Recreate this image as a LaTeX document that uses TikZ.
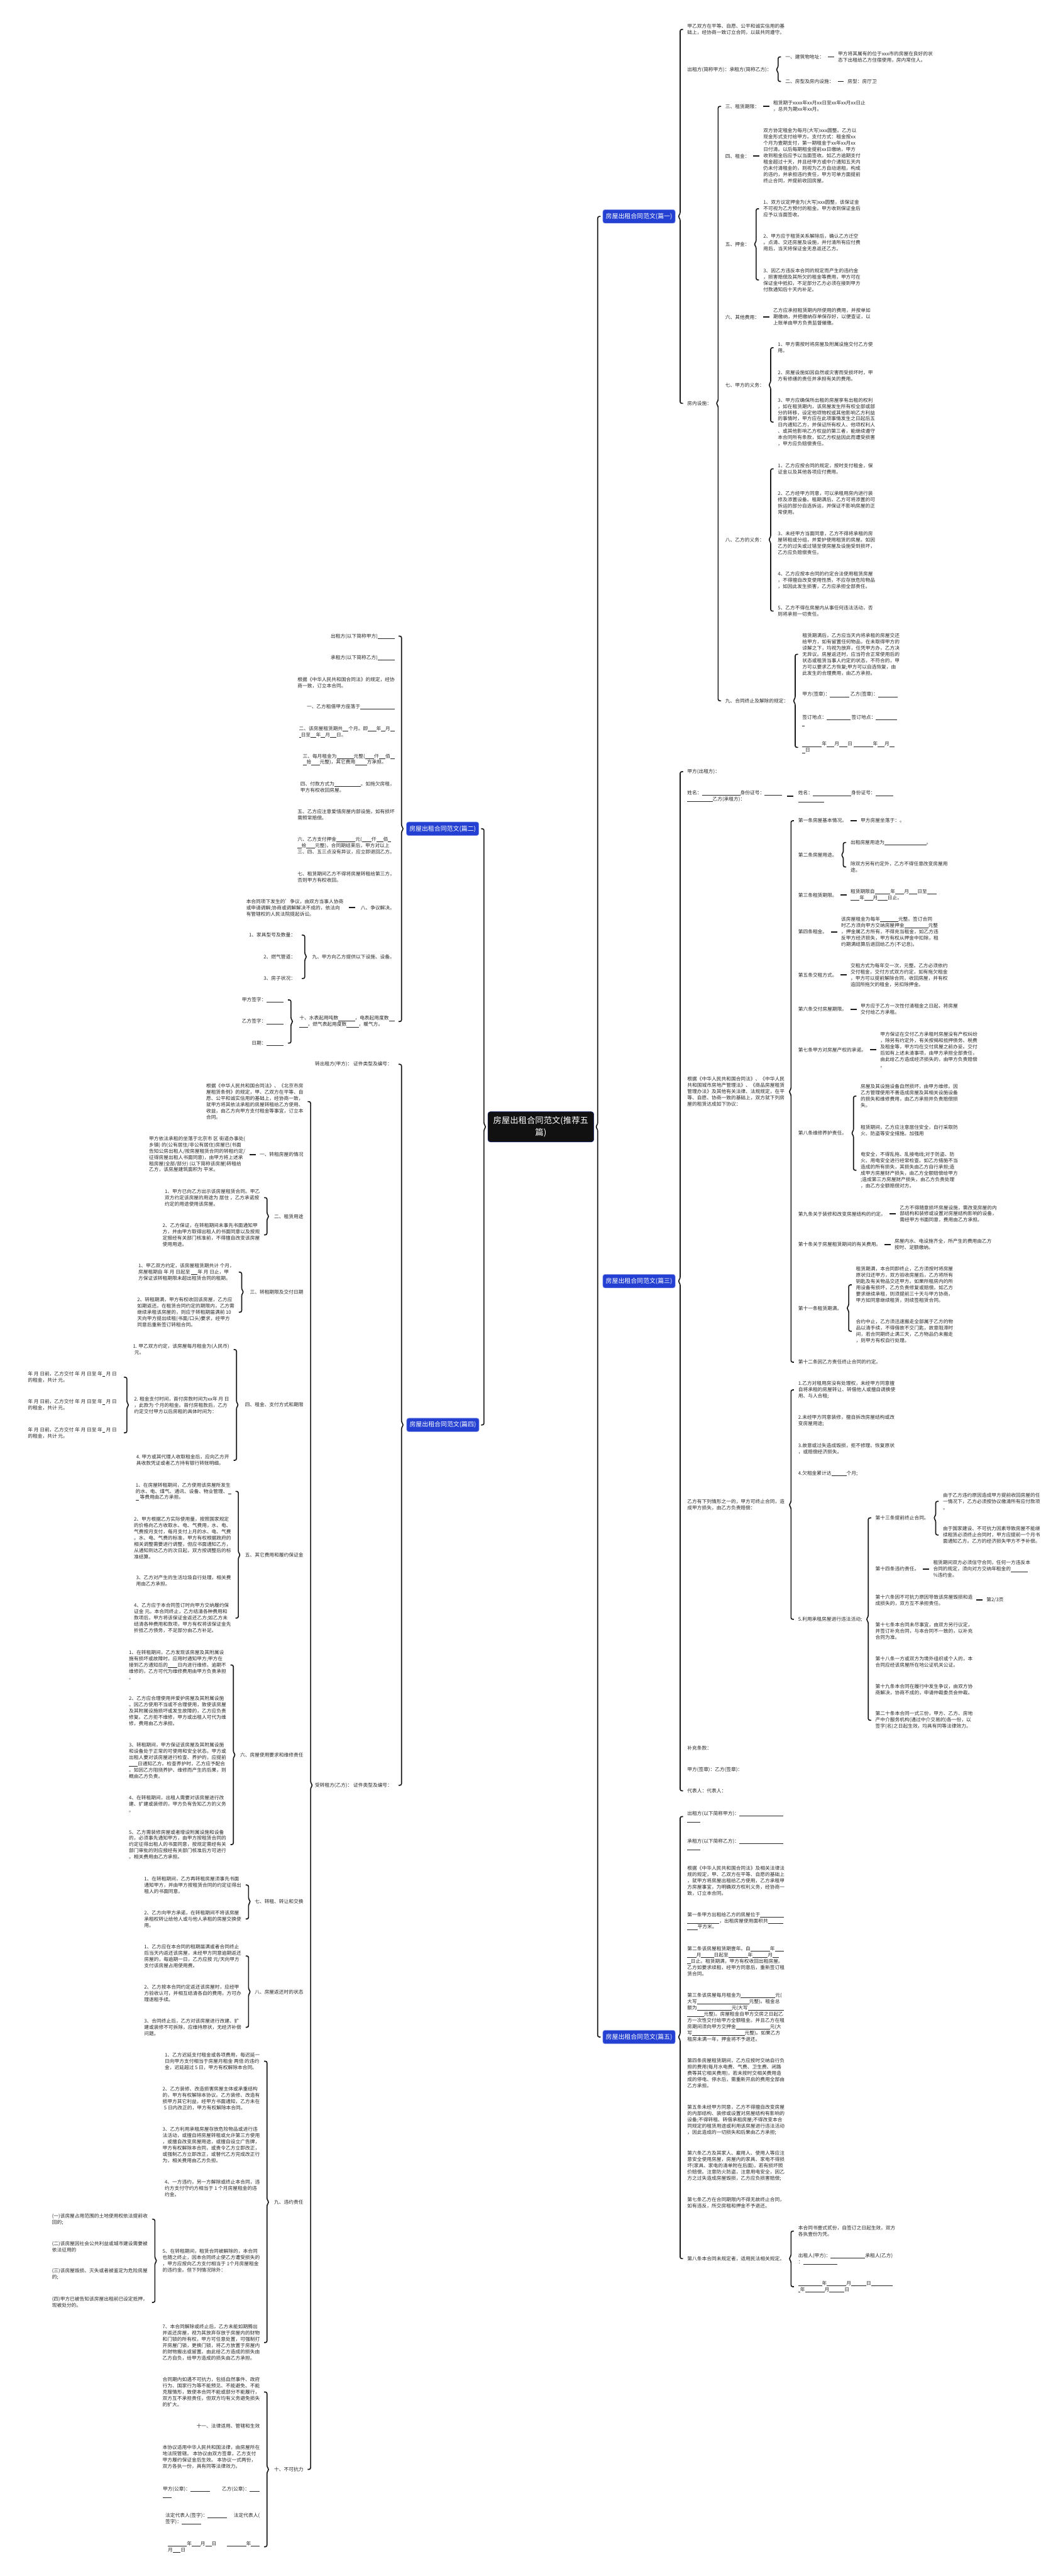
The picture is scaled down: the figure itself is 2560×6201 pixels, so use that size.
\documentclass[tikz,border=0pt]{standalone}
\usepackage{fontspec}
\setmainfont{Noto Sans CJK SC}
\usetikzlibrary{calc}

\definecolor{rootblack}{RGB}{17,17,17}
\definecolor{branchblue}{RGB}{36,64,210}
\definecolor{inkgray}{RGB}{38,38,38}

\newcommand{\mmfont}{\fontsize{5.85pt}{7.55pt}\selectfont}
\newcommand{\fillin}[1]{\rule[-0.16em]{#1em}{0.07em}}

% 大括号：子节点在右侧
\newcommand{\bracer}[4][7.5pt]{%
  \draw[mmbrace] let \p1=(#2.center), \p2=(#3.west), \p3=(#4.west) in
    (\x2-#1+3.5pt,\y2) -- (\x2-#1,\y2) -- (\x2-#1,\y1+3pt) -- (\x2-#1-2.5pt,\y1)
    -- (\x2-#1,\y1-3pt) -- (\x2-#1,\y3) -- (\x2-#1+3.5pt,\y3);}
% 大括号：子节点在左侧
\newcommand{\bracel}[4][7.5pt]{%
  \draw[mmbrace] let \p1=(#2.center), \p2=(#3.east), \p3=(#4.east) in
    (\x2+#1-3.5pt,\y2) -- (\x2+#1,\y2) -- (\x2+#1,\y1+3pt) -- (\x2+#1+2.5pt,\y1)
    -- (\x2+#1,\y1-3pt) -- (\x2+#1,\y3) -- (\x2+#1-3.5pt,\y3);}
% 短横线（单个子节点）
\newcommand{\linkr}[2]{\draw[mmlink] let \p1=(#1.east), \p2=(#2.west) in
  ({(\x1+\x2)/2-3.75pt},\y1) -- ({(\x1+\x2)/2+3.75pt},\y1);}
\newcommand{\linkl}[2]{\draw[mmlink] let \p1=(#1.west), \p2=(#2.east) in
  ({(\x1+\x2)/2-3.75pt},\y1) -- ({(\x1+\x2)/2+3.75pt},\y1);}

\begin{document}
\begin{tikzpicture}[x=0.5pt, y=-0.5pt,
  txt/.style={font=\mmfont, text=inkgray, align=left, inner sep=1pt},
  txtr/.style={txt, anchor=west},
  txtl/.style={txt, anchor=east},
  root/.style={fill=rootblack, draw=branchblue!55!black, line width=0.5pt, rounded corners=3pt,
    text=white, font=\fontsize{10.1pt}{13.85pt}\selectfont, align=center, inner xsep=6.5pt, inner ysep=6pt},
  branch/.style={fill=branchblue, draw=branchblue!60!white, line width=0.5pt, rounded corners=2.5pt,
    text=white, font=\fontsize{7.5pt}{9pt}\selectfont, inner xsep=3.5pt, inner ysep=4.2pt},
  mmbrace/.style={line width=1.25pt, draw=black!90, rounded corners=2pt},
  mmlink/.style={line width=1.25pt, draw=black!90}]

  \fill[white] (0,0) rectangle (2560,6201);
  \useasboundingbox (0,0) rectangle (2560,6201);

  % ==========================================
  % 中心主题与五个分支
  % ==========================================
  \node[root] (root) at (1302.5,2712.5) {房屋出租合同范文(推荐五\\篇)};
  \node[branch] (A) at (1539,521) {房屋出租合同范文(篇一)};
  \node[branch] (B) at (1066,1995) {房屋出租合同范文(篇二)};
  \node[branch] (C) at (1539,3084) {房屋出租合同范文(篇三)};
  \node[branch] (D) at (1066.5,3430) {房屋出租合同范文(篇四)};
  \node[branch] (E) at (1539,4903.5) {房屋出租合同范文(篇五)};
  \bracer[6pt]{root}{A}{E}
  \bracel[6pt]{root}{B}{D}

  % ==========================================
  % 篇一（右上）
  % ==========================================
  \begin{scope}
    \node[txtr] (A1) at (1653,70.8) {甲乙双方在平等、自愿、公平和诚实信用的基\\础上，经协商一致订立合同，以兹共同遵守。};
    \node[txtr] (A2) at (1653,167.7) {出租方(简称甲方)：承租方(简称乙方)：};
    \node[txtr] (A3) at (1653,971) {房内设施：};
    \bracer{A}{A1}{A3}

    % 出租方 / 承租方
    \node[txtr] (A21) at (1889,137) {一、建筑物地址：};
    \node[txtr] (A21t) at (2016,137) {甲方将其属有的位于xxx市的房屋在良好的状\\态下出租给乙方住宿使用，房内常住人。};
    \node[txtr] (A22) at (1889,196) {二、房型及房内设施：};
    \node[txtr] (A22t) at (2039,196) {房型：房厅卫};
    \bracer{A2}{A21}{A22}
    \linkr{A21}{A21t}
    \linkr{A22}{A22t}

    % 房内设施
    \node[txtr] (A31) at (1744.5,256) {三、租赁期限：};
    \node[txtr] (A31t) at (1860,256) {租赁期于xxxx年xx月xx日至xx年xx月xx日止\\，总共为期xx年xx月。};
    \node[txtr] (A32) at (1744.5,375.6) {四、租金：};
    \node[txtr] (A32t) at (1836,375) {双方协定租金为每月(大写)xxx圆整。乙方以\\现金形式支付给甲方。支付方式：租金按xx\\个月为壹期支付，第一期租金于xx年xx月xx\\日付清。以后每期租金提前xx日缴纳，甲方\\收到租金后应予以当面签收。如乙方逾期支付\\租金超过十天，并且经甲方或中介通知五天内\\仍未付清租金的，则视为乙方自动退租，构成\\的违约，并承担违约责任，甲方可单方面提前\\终止合同，并提前收回房屋。};
    \node[txtr] (A33) at (1744.5,588) {五、押金：};
    \node[txtr] (A331) at (1836,502.5) {1、双方议定押金为(大写)xxx圆整，该保证金\\不可视为乙方预付的租金。甲方收到保证金后\\应予以当面签收。};
    \node[txtr] (A332) at (1836,584) {2、甲方应于租赁关系解除后，确认乙方迁空\\。点清、交还房屋及设施，并付清所有应付费\\用后，当天将保证金无息返还乙方。};
    \node[txtr] (A333) at (1836,673.8) {3、因乙方违反本合同的规定而产生的违约金\\，损害赔偿及其所欠的租金等费用，甲方可在\\保证金中抵扣，不足部分乙方必须在接到甲方\\付款通知后十天内补足。};
    \node[txtr] (A34) at (1744.5,763.4) {六、其他费用：};
    \node[txtr] (A34t) at (1860,763) {乙方应承担租赁期内所使用的费用，并按单如\\期缴纳，并把缴纳存单保存好，以便查证，以\\上账单由甲方负责监督催缴。};
    \node[txtr] (A35) at (1744.5,926.7) {七、甲方的义务：};
    \node[txtr] (A351) at (1871,837) {1、甲方需按时将房屋及附属设施交付乙方使\\用。};
    \node[txtr] (A352) at (1871,904) {2、房屋设施如因自然或灾害而受损坏时，甲\\方有修缮的责任并承担有关的费用。};
    \node[txtr] (A353) at (1871,1016) {3、甲方应确保所出租的房屋享有出租的权利\\，如在租赁期内，该房屋发生所有权全部或部\\分的转移，设定他项物权或其他影响乙方利益\\的事情时，甲方应在此项事情发生之日起后五\\日内通知乙方，并保证所有权人、他项权利人\\、或其他影响乙方权益的第三者，能继续遵守\\本合同所有条款，如乙方权益因此而遭受损害\\，甲方应负赔偿责任。};
    \node[txtr] (A36) at (1744.5,1299) {八、乙方的义务：};
    \node[txtr] (A361) at (1871,1128.6) {1、乙方应按合同的规定，按时支付租金，保\\证金以及其他各项应付费用。};
    \node[txtr] (A362) at (1871,1210) {2、乙方经甲方同意，可以承租用房内进行装\\修及添置设备。租期满后，乙方可将添置的可\\拆运的部分自选拆运，并保证不影响房屋的正\\常使用。};
    \node[txtr] (A363) at (1871,1307) {3、未经甲方当面同意，乙方不得将承租的房\\屋转租或分组，并爱护使用租赁的房屋。如因\\乙方的过失或过错至使房屋及设施受到损坏，\\乙方应负赔偿责任。};
    \node[txtr] (A364) at (1871,1396.4) {4、乙方应按本合同的约定合法使用租赁房屋\\，不得擅自改变使用性质，不应存放危险物品\\，如因此发生损害，乙方应承担全部责任。};
    \node[txtr] (A365) at (1871,1471) {5、乙方不得在房屋内从事任何违法活动，否\\则将承担一切责任。};
    \node[txtr] (A37) at (1744.5,1687) {九、合同终止及解除的规定：};
    \node[txtr] (A371) at (1930,1575) {租赁期满后，乙方应当天内将承租的房屋交还\\给甲方，如有留置任何物品，在未取得甲方的\\谅解之下，均视为放弃，任凭甲方办，乙方决\\无异议。房屋返还时，应当符合正常使用后的\\状态或租赁当事人约定的状态，不符合的，甲\\方可以要求乙方恢复;甲方可以自选恢复，由\\此发生的合理费用，由乙方承担。};
    \node[txtr] (A372) at (1930,1672) {甲方(签章)：\fillin{4} 乙方(签章)：\fillin{4}};
    \node[txtr] (A373) at (1930,1734) {签订地点：\fillin{4.9} 签订地点：\fillin{4.4}\\\fillin{0.4}};
    \node[txtr] (A374) at (1930,1799) {\fillin{4}年\fillin{1.6}月\fillin{1.7}日 \fillin{4}年\fillin{1.4}月\fillin{1}\\\fillin{0.6}日};
    \bracer{A3}{A31}{A37}
    \linkr{A31}{A31t}
    \linkr{A32}{A32t}
    \bracer{A33}{A331}{A333}
    \linkr{A34}{A34t}
    \bracer{A35}{A351}{A353}
    \bracer{A36}{A361}{A365}
    \bracer{A37}{A371}{A374}
  \end{scope}

  % ==========================================
  % 篇二（左上）
  % ==========================================
  \begin{scope}
    \node[txtl] (B1) at (953,1531.3) {出租方(以下简称甲方)\fillin{3.5}};
    \node[txtl] (B2) at (953,1583.5) {承租方(以下简称乙方)\fillin{3.5}};
    \node[txtl] (B3) at (953,1643) {根据《中华人民共和国合同法》的规定，经协\\商一致，订立本合同。};
    \node[txtl] (B4) at (953,1701.7) {一、乙方租借甲方座落于\fillin{7.1}};
    \node[txtl] (B5) at (953,1761.3) {二、该房屋租赁期共\fillin{1.2}个月。即\fillin{1.7}年\fillin{0.9}月\fillin{0.9}\\\fillin{0.4}日至\fillin{1.1}年\fillin{0.9}月\fillin{1.3}日。};
    \node[txtl] (B6) at (953,1828) {三、每月租金为\fillin{3.5}元整(\fillin{1.9}仟\fillin{1.3}佰\fillin{0.9}\\\fillin{0.8}拾\fillin{1.7}元整)，其它费用\fillin{2.4}方承担。};
    \node[txtl] (B7) at (953,1894.7) {四、付款方式为\fillin{5.4}。如拖欠房租，\\甲方有权收回房屋。};
    \node[txtl] (B8) at (953,1961.7) {五、乙方应注意爱惜房屋内部设施，如有损坏\\需照常赔偿。};
    \node[txtl] (B9) at (953,2036) {六、乙方支付押金\fillin{3.9}元(\fillin{2}仟\fillin{1.4}佰\fillin{0.65}\\\fillin{0.8}拾\fillin{1.8}元整)，合同期结束后，甲方对以上\\三、四、五三点没有异议，应立即退回乙方。};
    \node[txtl] (B10) at (953,2110.7) {七、租赁期间乙方不得将房屋转租给第三方，\\否则甲方有权收回。};
    \node[txtl] (B11) at (953,2185) {八、争议解决。};
    \node[txtl] (B11t) at (829.5,2185) {本合同项下发生的'争议，由双方当事人协商\\或申请调解;协商或调解解决不成的，依法向\\有管辖权的人民法院提起诉讼。};
    \node[txtl] (B12) at (953,2303) {九、甲方向乙方提供以下设施、设备。};
    \node[txtl] (B121) at (714,2251) {1、家具型号及数量：};
    \node[txtl] (B122) at (714,2303) {2、燃气管道：};
    \node[txtl] (B123) at (714,2355.5) {3、房子状况：};
    \node[txtl] (B13) at (953,2459) {十、水表起用吨数\fillin{3.4}，电表起用度数\fillin{1.2}\\\fillin{1.7}，燃气表起用度数\fillin{2.5}，暖气方。};
    \node[txtl] (B131) at (685.7,2407) {甲方签字：\fillin{3.6}};
    \node[txtl] (B132) at (685.7,2459) {乙方签字：\fillin{3.6}};
    \node[txtl] (B133) at (685.7,2511) {日期：\fillin{3.6}};
    \bracel[7pt]{B}{B1}{B13}
    \linkl{B11}{B11t}
    \bracel[10pt]{B12}{B121}{B123}
    \bracel{B13}{B131}{B133}
  \end{scope}

  % ==========================================
  % 篇三（右中）
  % ==========================================
  \begin{scope}
    \node[txtr] (C1) at (1653,1857.6) {甲方(出租方)：};
    \node[txtr] (C2) at (1653,1917) {姓名：\fillin{7.9}身份证号：\fillin{3.6}\\\fillin{5.2}乙方(承租方)：};
    \node[txtr] (C2t) at (1920,1917) {姓名：\fillin{7.9}身份证号：\fillin{3.6}\\\fillin{5.3}};
    \node[txtr] (C3) at (1653,2628) {根据《中华人民共和国合同法》、《中华人民\\共和国城市房地产管理法》、《商品房屋租赁\\管理办法》及其他有关法律、法规规定，在平\\等、自愿、协商一致的基础上，双方就下列房\\屋的租赁达成如下协议：};
    \node[txtr] (C4) at (1653,3622.7) {乙方有下列情形之一的，甲方可终止合同，造\\成甲方损失，由乙方负责赔偿：};
    \node[txtr] (C5) at (1653,4208) {补充条款：};
    \node[txtr] (C6) at (1653,4259.6) {甲方(签章)：乙方(签章)：};
    \node[txtr] (C7) at (1653,4310.8) {代表人：代表人：};
    \bracer{C}{C1}{C7}
    \linkr{C2}{C2t}

    % 协议条款
    \node[txtr] (C31) at (1920,1975.7) {第一条房屋基本情况。};
    \node[txtr] (C31t) at (2070.5,1975.7) {甲方房屋坐落于：。};
    \node[txtr] (C32) at (1920,2058) {第二条房屋用途。};
    \node[txtr] (C321) at (2046,2028) {出租房屋用途为\fillin{8.6}。};
    \node[txtr] (C322) at (2046,2087) {除双方另有约定外，乙方不得任意改变房屋用\\途。};
    \node[txtr] (C33) at (1920,2154.5) {第三条租赁期限。};
    \node[txtr] (C33t) at (2046,2154) {租赁期限自\fillin{3.2}年\fillin{1.85}月\fillin{1.7}日至\fillin{2}\\\fillin{1.85}年\fillin{1.75}月\fillin{2}日止。};
    \node[txtr] (C34) at (1920,2243.5) {第四条租金。};
    \node[txtr] (C34t) at (2023.5,2243) {该房屋租金为每年\fillin{3.75}元整。签订合同\\时乙方须向甲方交纳房屋押金\fillin{4.9}元整\\，押金属乙方所有，不得充当租金，如乙方违\\反甲方经济损失，甲方有权从押金中扣除，租\\约期满结算后退回给乙方(不记息)。};
    \node[txtr] (C35) at (1920,2347) {第五条交租方式。};
    \node[txtr] (C35t) at (2046,2347) {交租方式为每年交一次，元整。乙方必须依约\\交付租金，交付方式双方约定，如有拖欠租金\\，甲方可以提前解除合同，收回房屋，并有权\\追回所拖欠的租金，另扣除押金。};
    \node[txtr] (C36) at (1920,2429.7) {第六条交付房屋期限。};
    \node[txtr] (C36t) at (2070.5,2429.7) {甲方应于乙方一次性付清租金之日起，将房屋\\交付给乙方承租。};
    \node[txtr] (C37) at (1920,2527) {第七条甲方对房屋产权的承诺。};
    \node[txtr] (C37t) at (2117.5,2528) {甲方保证在交付乙方承租时房屋没有产权纠纷\\，除另有约定外，有关按揭和抵押债务、税费\\及租金等，甲方均在交付房屋之前办妥。交付\\后如有上述未清事项，由甲方承担全部责任，\\由此给乙方造成经济损失的，由甲方负责赔偿\\。};
    \node[txtr] (C38) at (1920,2727.7) {第八条维修养护责任。};
    \node[txtr] (C381) at (2070.5,2638.6) {房屋及其设施设备自然损坏，由甲方维修。因\\乙方管理使用不善造成房屋及其相关设施设备\\的损失和维修费用，由乙方承担并负责赔偿损\\失。};
    \node[txtr] (C382) at (2070.5,2720.6) {租赁期间，乙方应注意居住安全，自行采取防\\火、防盗等安全措施。加强用};
    \node[txtr] (C383) at (2070.5,2817) {电安全，不得乱拖、乱接电线;对于防盗、防\\火、用电安全进行经常检查。如乙方措施不当\\造成的所有损失，其损失由乙方自行承担;造\\成甲方房屋财产损失，由乙方全额赔偿给甲方\\;造成第三方房屋财产损失，由乙方负责处理\\，由乙方全额赔偿对方。};
    \node[txtr] (C39) at (1920,2922) {第九条关于装修和改变房屋结构的约定。};
    \node[txtr] (C39t) at (2164.5,2922) {乙方不得随意损坏房屋设施，需改变房屋的内\\部结构和装修或设置对房屋结构影响的设备，\\需经甲方书面同意，费用由乙方承担。};
    \node[txtr] (C3a) at (1920,2996) {第十条关于房屋租赁期间的有关费用。};
    \node[txtr] (C3at) at (2152,2996) {房屋内水、电设施齐全，所产生的费用由乙方\\按时、足额缴纳。};
    \node[txtr] (C3b) at (1920,3149) {第十一条租赁期满。};
    \node[txtr] (C3b1) at (2059,3093) {租赁期满，本合同即终止，乙方须按时将房屋\\原状归还甲方，双方验收房屋后，乙方将所有\\钥匙及有关物品交还甲方。如果所租房内的所\\用设备有损坏，乙方负责修复或赔偿。如乙方\\要求继续承租，则须提前三十天与甲方协商，\\甲方如同意继续租赁，则续签租赁合同。};
    \node[txtr] (C3b2) at (2059,3204.5) {合约中止，乙方须迅速搬走全部属于乙方的物\\品以清手续，不得借故不交门匙，故意阻滞时\\间，若合同期终止满三天，乙方物品仍未搬走\\，则甲方有权自行处理。};
    \node[txtr] (C3c) at (1920,3279) {第十二条因乙方责任终止合同的约定。};
    \bracer{C3}{C31}{C3c}
    \linkr{C31}{C31t}
    \bracer{C32}{C321}{C322}
    \linkr{C33}{C33t}
    \linkr{C34}{C34t}
    \linkr{C35}{C35t}
    \linkr{C36}{C36t}
    \linkr{C37}{C37t}
    \bracer{C38}{C381}{C383}
    \linkr{C39}{C39t}
    \linkr{C3a}{C3at}
    \bracer{C3b}{C3b1}{C3b2}

    % 乙方违约情形
    \node[txtr] (C41) at (1920,3345.8) {1.乙方对租用房没有处理权，未经甲方同意擅\\自将承租的房屋转让、转借他人或擅自调换使\\用、与人合租;};
    \node[txtr] (C42) at (1920,3419.8) {2.未经甲方同意装修，擅自拆改房屋结构或改\\变房屋用途;};
    \node[txtr] (C43) at (1920,3487) {3.故意或过失造成毁损，拒不修理、恢复原状\\，或赔偿经济损失。};
    \node[txtr] (C44) at (1920,3546.7) {4.欠租金累计达\fillin{3.1}个月;};
    \node[txtr] (C45) at (1920,3898) {5.利用承租房屋进行违法活动;};
    \node[txtr] (C451) at (2106,3653.8) {第十三条提前终止合同。};
    \node[txtr] (C4511) at (2268.5,3614) {由于乙方违约原因造成甲方提前收回房屋的任\\一情况下，乙方必须按协议缴清所有应付款项\\。};
    \node[txtr] (C4512) at (2268.5,3695) {由于国家建设、不可抗力因素导致房屋不能继\\续租赁必须终止合同时，甲方应提前一个月书\\面通知乙方。乙方的经济损失甲方不予补偿。};
    \node[txtr] (C452) at (2106,3777) {第十四条违约责任。};
    \node[txtr] (C452t) at (2245,3777) {租赁期间双方必须信守合同，任何一方违反本\\合同的规定，须向对方交纳年租金的\fillin{3.5}\\\%违约金。};
    \node[txtr] (C453) at (2106,3851.7) {第十六条因不可抗力原因导致该房屋毁损和造\\成损失的，双方互不承担责任。};
    \node[txtr] (C453t) at (2373.6,3851.7) {第2/3页};
    \node[txtr] (C454) at (2106,3926) {第十七条本合同未尽事宜，由双方另行议定，\\并签订补充合同，与本合同不一致的，以补充\\合同为准。};
    \node[txtr] (C455) at (2106,4000) {第十八条一方或双方为境外组织或个人的，本\\合同应经该房屋所在地公证机关公证。};
    \node[txtr] (C456) at (2106,4067) {第十九条本合同在履行中发生争议，由双方协\\商解决，协商不成的，申请仲裁委员会仲裁。};
    \node[txtr] (C457) at (2106,4141) {第二十条本合同一式三份，甲方、乙方、房地\\产中介服务机构(通过中介交易的)各一份，以\\签字(名)之日起生效，均具有同等法律效力。};
    \bracer{C4}{C41}{C45}
    \bracer{C45}{C451}{C457}
    \bracer{C451}{C4511}{C4512}
    \linkr{C452}{C452t}
    \linkr{C453}{C453t}
  \end{scope}

  % ==========================================
  % 篇四（左下）
  % ==========================================
  \begin{scope}
    \node[txtl] (D1) at (947,2562) {转出租方(甲方)： 证件类型及编号：};
    \node[txtl] (D2) at (947,4297.5) {受转租方(乙方)： 证件类型及编号：};
    \bracel[10pt]{D}{D1}{D2}

    \node[txtl] (D21) at (733,2651.8) {根据《中华人民共和国合同法》、《北京市房\\屋租赁条例》的规定，甲、乙双方在平等、自\\愿、公平和诚实信用的基础上，经协商一致，\\就甲方将其依法承租的房屋转租给乙方使用、\\收益，由乙方向甲方支付租金等事宜，订立本\\合同。};
    \node[txtl] (D22) at (733,2779.5) {一、转租房屋的情况};
    \node[txtl] (D22t) at (593,2778.3) {甲方依法承租的坐落于北京市 区 街道办事处(\\乡镇) 的(公有居住/非公有居住)房屋已(书面\\告知公房出租人/按房屋租赁合同的转租约定/\\征得房屋出租人书面同意)，由甲方将上述承\\租房屋(全部/部分) (以下简称该房屋)转租给\\乙方，该房屋建筑面积为 平米。};
    \node[txtl] (D23) at (733,2928) {二、租赁用途};
    \node[txtl] (D231) at (628,2883) {1、甲方已向乙方出示该房屋租赁合同。甲乙\\双方约定该房屋的用途为 居住 ，乙方承诺按\\约定的用途使用该房屋。};
    \node[txtl] (D232) at (628,2972.5) {2、乙方保证，在转租期间未事先书面通知甲\\方，并由甲方取得出租人的书面同意以及按规\\定报经有关部门核准前，不得擅自改变该房屋\\使用用途。};
    \node[txtl] (D24) at (733,3110) {三、转租期限及交付日期};
    \node[txtl] (D241) at (567,3062.3) {1、甲乙双方约定，该房屋租赁期共计 个月，\\房屋租期自 年 月 日起至 \fillin{1.3}年 月 日止，甲\\方保证该转租期限未超出租赁合同的租期。};
    \node[txtl] (D242) at (567,3158.8) {2、转租期满，甲方有权收回该房屋，乙方应\\如期返还。在租赁合同约定的期限内，乙方需\\继续承租该房屋的，则应于转租期届满前 10\\天向甲方提出续租(书面/口头)要求，经甲方\\同意后重新签订转租合同。};
    \node[txtl] (D25) at (733,3381.8) {四、租金、支付方式和期限};
    \node[txtl] (D251) at (554.5,3248.7) {1. 甲乙双方约定，该房屋每月租金为(人民币)\\\hspace*{0.3em}元。};
    \node[txtl] (D252) at (554.5,3382.2) {2. 租金支付时间，首付房款时间为xx年 月 日\\，此款为 个月的租金。首付房租款后，乙方\\约定交付甲方以后房租的具体时间为：};
    \node[txtl] (D2521) at (283.6,3315.3) {年 月 日前，乙方交付 年 月 日至 年\fillin{0.5} 月 日\\的租金，共计 元。};
    \node[txtl] (D2522) at (283.6,3382.2) {年 月 日前，乙方交付 年 月 日至 年\fillin{0.5} 月 日\\的租金，共计 元。};
    \node[txtl] (D2523) at (283.6,3449) {年 月 日前，乙方交付 年 月 日至 年\fillin{0.5} 月 日\\的租金，共计 元。};
    \node[txtl] (D253) at (554.5,3515.2) {4. 甲方或其代理人收取租金后，应向乙方开\\具收款凭证或者乙方持有银行转账明细。};
    \node[txtl] (D26) at (733,3743) {五、其它费用和履约保证金};
    \node[txtl] (D261) at (559,3590) {1、在房屋转租期间，乙方使用该房屋所发生\\的水、电、煤气、通讯、设备、物业管理、\fillin{0.65}\\\fillin{0.65} 等费用由乙方承担。};
    \node[txtl] (D262) at (559,3702) {2、甲方根据乙方实际使用量，按照国家规定\\的价格向乙方收取水、电、气费用，水、电、\\气费按月支付，每月支付上月的水、电、气费\\。水、电、气费的标准，甲方有权根据政府的\\相关调整需要进行调整，但应书面通知乙方，\\从通知到达乙方的次日起，双方按调整后的标\\准结算。};
    \node[txtl] (D263) at (559,3806) {3、乙方对产生的生活垃圾自行处理，相关费\\用由乙方承担。};
    \node[txtl] (D264) at (559,3895) {4、乙方应于本合同签订时向甲方交纳履约保\\证金 元。本合同终止，乙方结清各种费用和\\款项后，甲方将该保证金返还乙方;如乙方未\\结清各种费用和款项，甲方有权将该保证金先\\折抵乙方债务，不足部分由乙方补足。};
    \node[txtl] (D27) at (733,4224.4) {六、房屋使用要求和维修责任};
    \node[txtl] (D271) at (547,4008) {1、在转租期间，乙方发现该房屋及其附属设\\施有损坏或故障时，应用时通知甲方;甲方在\\接到乙方通知后的\fillin{2}日内进行维修。逾期不\\维修的，乙方可代为维修费用由甲方负责承担\\。};
    \node[txtl] (D272) at (547,4119.3) {2、乙方应合理使用并爱护房屋及其附属设施\\。因乙方使用不当或不合理使用，致使该房屋\\及其附属设施损坏或发生故障的，乙方应负责\\修复。乙方拒不维修，甲方或出租人可代为维\\修，费用由乙方承担。};
    \node[txtl] (D273) at (547,4238.7) {3、转租期间，甲方保证该房屋及其附属设施\\和设备处于正常的可使用和安全状态。甲方或\\出租人要对该房屋进行检查、养护的，应提前\\\fillin{1.8}日通知乙方。检查养护时，乙方应予配合\\。如因乙方阻挠养护、维修而产生的后果，则\\概由乙方负责。};
    \node[txtl] (D274) at (547,4343) {4、在转租期间，出租人需要对该房屋进行改\\建、扩建或装修的，甲方负有告知乙方的义务\\。};
    \node[txtl] (D275) at (547,4440.3) {5、乙方需装修房屋或者增设附属设施和设备\\的，必须事先通知甲方，由甲方按租赁合同的\\约定征得出租人的书面同意，按规定需经有关\\部门审批的则应报经有关部门核准后方可进行\\。相关费用由乙方承担。};
    \node[txtl] (D28) at (733,4577.6) {七、转租、转让和交换};
    \node[txtl] (D281) at (583.6,4537.6) {1、在转租期间，乙方再转租房屋须事先书面\\通知甲方，并由甲方按租赁合同的约定征得出\\租人的书面同意。};
    \node[txtl] (D282) at (583.6,4619.3) {2、乙方向甲方承诺，在转租期间不将该房屋\\承租权转让给他人或与他人承租的房屋交换使\\用。};
    \node[txtl] (D29) at (733,4794.8) {八、房屋返还时的状态};
    \node[txtl] (D291) at (583.6,4708.4) {1、乙方应在本合同的租期届满或者合同终止\\后当天内返还该房屋，未经甲方同意逾期返还\\房屋的，每逾期一日，乙方应按 元/天向甲方\\支付该房屋占用使用费。};
    \node[txtl] (D292) at (583.6,4798.3) {2、乙方按本合同约定返还该房屋时，应经甲\\方验收认可，并相互结清各自的费用，方可办\\理退租手续。};
    \node[txtl] (D293) at (583.6,4880) {3、合同终止后，乙方对该房屋进行改建、扩\\建或装修不可拆除，应维持原状，无经济补偿\\问题。};
    \node[txtl] (D2a) at (733,5301) {九、违约责任};
    \node[txtl] (D2a1) at (628,4961.7) {1、乙方迟延支付租金或各项费用，每迟延一\\日向甲方支付相当于房屋月租金 两倍 的违约\\金，迟延超过 5 日，甲方有权解除本合同。};
    \node[txtl] (D2a2) at (628,5051) {2、乙方装修、改造损害房屋主体或承重结构\\的，甲方有权解除本协议。乙方装修、改造有\\损甲方其它利益，经甲方书面通知，乙方未在\\\hspace*{0.3em}5 日内改正的，甲方有权解除本合同。};
    \node[txtl] (D2a3) at (628,5162.8) {3、乙方利用承租房屋存放危险物品或进行违\\法活动，或擅自将房屋转租或允许第三方使用\\，或擅自改变房屋用途，或擅自设立广告牌，\\甲方有权解除本合同，或责令乙方立即改正，\\或强制乙方立即改正，或替代乙方完成改正行\\为，相关费用由乙方负担。};
    \node[txtl] (D2a4) at (628,5267) {4、一方违约，另一方解除或终止本合同，违\\约方支付守约方相当于 1 个月房屋租金的违\\约金。};
    \node[txtl] (D2a5) at (628,5442) {5、在转租期间，租赁合同被解除的，本合同\\也随之终止，因本合同终止使乙方遭受损失的\\，甲方应按向乙方支付相当于 1个月房屋租金\\的违约金。但下列情况除外：};
    \node[txtl] (D2a51) at (358,5342) {(一)该房屋占用范围的土地使用权依法提前收\\回的;};
    \node[txtl] (D2a52) at (358,5408) {(二)该房屋因社会公共利益或城市建设需要被\\依法征用的};
    \node[txtl] (D2a53) at (358,5474.5) {(三)该房屋毁损、灭失或者被鉴定为危险房屋\\的;};
    \node[txtl] (D2a54) at (358,5542.3) {(四)甲方已被告知该房屋出租前已设定抵押，\\现被处分的。};
    \node[txtl] (D2a7) at (628,5639) {7、本合同解除或终止后，乙方未能如期腾出\\并返还房屋，视为其放弃存放于房屋内的财物\\和门锁的所有权，甲方可任意处置，可强制打\\开房屋门锁，更换门锁，将乙方放置于房屋内\\的财物搬出或留置。由此给乙方造成的损失由\\乙方自负，给甲方造成的损失由乙方承担。};
    \node[txtl] (D2b) at (733,5944.4) {十、不可抗力};
    \node[txtl] (D2b1) at (628,5758) {合同期内如遇不可抗力，包括自然事件、政府\\行为、国家行为等不能预见、不能避免、不能\\克服情形，致使本合同不能或部分不能履行，\\双方互不承担责任，但双方均有义务避免损失\\的扩大。};
    \node[txtl] (D2b2) at (628,5840) {十一、法律适用、管辖和生效};
    \node[txtl] (D2b3) at (628,5914.5) {本协议适用中华人民共和国法律，由房屋所在\\地法院管辖。 本协议由双方签章，乙方支付\\甲方履约保证金后生效。 本协议一式两份，\\双方各执一份，具有同等法律效力。};
    \node[txtl] (D2b4) at (628,5998.8) {甲方(公章)：\fillin{4}\hspace{2.5em}乙方(公章)：\fillin{2.1}\\\fillin{1.8}};
    \node[txtl] (D2b5) at (628,6063) {法定代表人(签字)：\fillin{4}\hspace{1.4em}法定代表人(\\签字)：\fillin{4}};
    \node[txtl] (D2b6) at (628,6130.5) {\fillin{3.9}年\fillin{1.8}月\fillin{1.3}日\hspace{2.1em}\fillin{4}年\fillin{1.8}\\月\fillin{1.6}日};
    \bracel{D2}{D21}{D2b}
    \linkl{D22}{D22t}
    \bracel{D23}{D231}{D232}
    \bracel{D24}{D241}{D242}
    \bracel{D25}{D251}{D253}
    \bracel[11pt]{D252}{D2521}{D2523}
    \bracel{D26}{D261}{D264}
    \bracel{D27}{D271}{D275}
    \bracel{D28}{D281}{D282}
    \bracel{D29}{D291}{D293}
    \bracel{D2a}{D2a1}{D2a7}
    \bracel{D2a5}{D2a51}{D2a54}
    \bracel{D2b}{D2b1}{D2b6}
  \end{scope}

  % ==========================================
  % 篇五（右下）
  % ==========================================
  \begin{scope}
    \node[txtr] (E1) at (1653,4372.9) {出租方(以下简称甲方)：\fillin{9}\\\fillin{2.6}};
    \node[txtr] (E2) at (1653,4439.5) {承租方(以下简称乙方)：\fillin{9}\\\fillin{2.6}};
    \node[txtr] (E3) at (1653,4527) {根据《中华人民共和国合同法》及相关法律法\\规的规定，甲、乙双方在平等、自愿的基础上\\，就甲方将房屋出租给乙方使用，乙方承租甲\\方房屋事宜，为明确双方权利义务，经协商一\\致，订立本合同。};
    \node[txtr] (E4) at (1653,4624) {第一条甲方出租给乙方的房屋位于\fillin{4.9}\\\fillin{6.6}，出租房屋使用面积共\fillin{3.2}\\\fillin{2.1}平方米。};
    \node[txtr] (E5) at (1653,4721) {第二条该房屋租赁期壹年。自\fillin{4}年\fillin{1.85}\\\fillin{1.85}月\fillin{2.6}日起至\fillin{4}年\fillin{3.1}月\fillin{1.3}\\\fillin{0.7}日止。租赁期满，甲方有权收回出租房屋。\\乙方如要求续租，经甲方同意后，重新签订租\\赁合同。};
    \node[txtr] (E6) at (1653,4855.5) {第三条该房屋每月租金为\fillin{7.1}元(\\大写\fillin{10.7}元整)。租金总\\额为\fillin{7.1}元(大写\fillin{7.4}\\\fillin{3.4}元整)。房屋租金自甲方交房之日起乙\\方一次性交付给甲方全额租金。并且乙方在租\\房期间须向甲方交押金\fillin{7}元(大\\写\fillin{10.8}元整)。如果乙方\\租房未满一年，押金将不予退还。};
    \node[txtr] (E7) at (1653,4990) {第四条房屋租赁期间，乙方应按时交纳自行负\\担的费用(每月水电费、气费、卫生费、闭路\\费等其它相关费用)，若未按时交相关费用造\\成的停电、停水后，需重新开启的费用全部由\\乙方承担。};
    \node[txtr] (E8) at (1653,5102.8) {第五条未经甲方同意，乙方不得擅自改变房屋\\的内部结构、装修或设置对房屋结构有影响的\\设备;不得转租、转借承租房屋;不得改变本合\\同规定的租赁用途或利用该房屋进行违法活动\\，因此造成的一切损失和后果由乙方承担;};
    \node[txtr] (E9) at (1653,5213.8) {第六条乙方及其家人、雇用人、使用人等应注\\意安全使用房屋，房屋内的家具、家电不得损\\坏(家具、家电的清单附在后面)，若有损坏照\\价赔偿。注意防火防盗，注意用电安全，因乙\\方之过失造成房屋毁损，乙方应负损害赔偿;};
    \node[txtr] (E10) at (1653,5303) {第七条乙方在合同期限内不得无故终止合同，\\如有违反，所交房租和押金不予退还。};
    \node[txtr] (E11) at (1653,5437) {第八条本合同未规定者，适用民法相关规定。};
    \node[txtr] (E111) at (1920,5370.7) {本合同书壹式贰份，自签订之日起生效，双方\\各执壹份为凭。};
    \node[txtr] (E112) at (1920,5437) {出租人(甲方)：\fillin{7.1}承租人(乙方)\\：\fillin{7.1}};
    \node[txtr] (E113) at (1920,5504.5) {\fillin{4.9}年\fillin{4}月\fillin{3.1}日\fillin{4.4}\\\fillin{0.4}年\fillin{4}月\fillin{3.1}日};
    \bracer{E}{E1}{E11}
    \bracer{E11}{E111}{E113}
  \end{scope}

\end{tikzpicture}
\end{document}
